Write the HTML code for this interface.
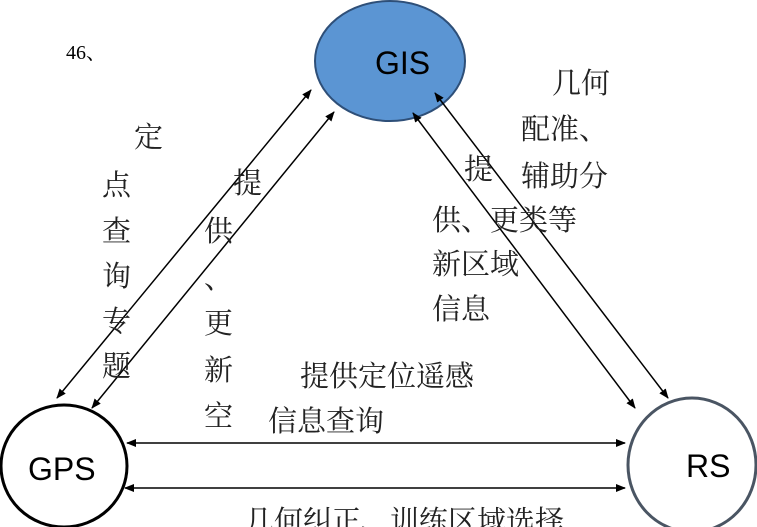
<!DOCTYPE html>
<html><head><meta charset="utf-8"><style>
body{margin:0;background:#fff;width:757px;height:527px;overflow:hidden;position:relative}
svg{position:absolute;left:0;top:0}
.t{font-family:"Liberation Serif","Noto Serif CJK SC",serif;font-size:29px;fill:#222}
.s{font-family:"Liberation Sans","Noto Sans CJK SC",sans-serif;font-size:32px;fill:#000}
</style></head><body>
<svg width="757" height="527" viewBox="0 0 757 527">
<defs><marker id="a" markerWidth="10" markerHeight="8" refX="9" refY="4" orient="auto-start-reverse" markerUnits="userSpaceOnUse"><path d="M0,0 L10,4 L0,8 z" fill="#000"/></marker></defs>
<ellipse cx="390" cy="61" rx="75" ry="60" fill="#5b95d3" stroke="#2e4f78" stroke-width="2"/>
<ellipse cx="64" cy="466" rx="63" ry="61" fill="#fff" stroke="#000" stroke-width="3"/>
<ellipse cx="692" cy="465" rx="64" ry="67" fill="#fff" stroke="#4a5563" stroke-width="3"/>
<g stroke="#000" stroke-width="1.5" fill="none">
<line x1="57" y1="398" x2="311" y2="90" marker-start="url(#a)" marker-end="url(#a)"/>
<line x1="92" y1="408" x2="334" y2="112" marker-start="url(#a)" marker-end="url(#a)"/>
<line x1="413" y1="113" x2="635" y2="408" marker-start="url(#a)" marker-end="url(#a)"/>
<line x1="435" y1="93" x2="668" y2="398" marker-start="url(#a)" marker-end="url(#a)"/>
<line x1="127" y1="443" x2="625" y2="443" marker-start="url(#a)" marker-end="url(#a)"/>
<line x1="125" y1="488" x2="625" y2="488" marker-start="url(#a)" marker-end="url(#a)"/>
</g>
<text class="s" x="375" y="74">GIS</text>
<text class="s" x="28" y="480">GPS</text>
<text class="s" x="686" y="477">RS</text>
<text x="66" y="59" style="font-family:'Liberation Serif','Noto Serif CJK SC',serif;font-size:20px">46、</text>
<g class="t">
<text x="134" y="147">定</text>
<text x="102" y="195">点</text>
<text x="102" y="241">查</text>
<text x="102" y="286">询</text>
<text x="102" y="331">专</text>
<text x="102" y="376">题</text>
<text x="233" y="193">提</text>
<text x="204" y="241">供</text>
<text x="204" y="288">、</text>
<text x="204" y="333">更</text>
<text x="204" y="380">新</text>
<text x="204" y="426">空</text>
<text x="552" y="93">几何</text>
<text x="521" y="139">配准、</text>
<text x="521" y="186">辅助分</text>
<text x="464" y="179">提</text>
<text x="432" y="230">供、更类等</text>
<text x="432" y="274">新区域</text>
<text x="432" y="319">信息</text>
<text x="300" y="386">提供定位遥感</text>
<text x="268" y="431">信息查询</text>
<text x="245" y="531">几何纠正、训练区域选择</text>
</g>
</svg>
</body></html>
